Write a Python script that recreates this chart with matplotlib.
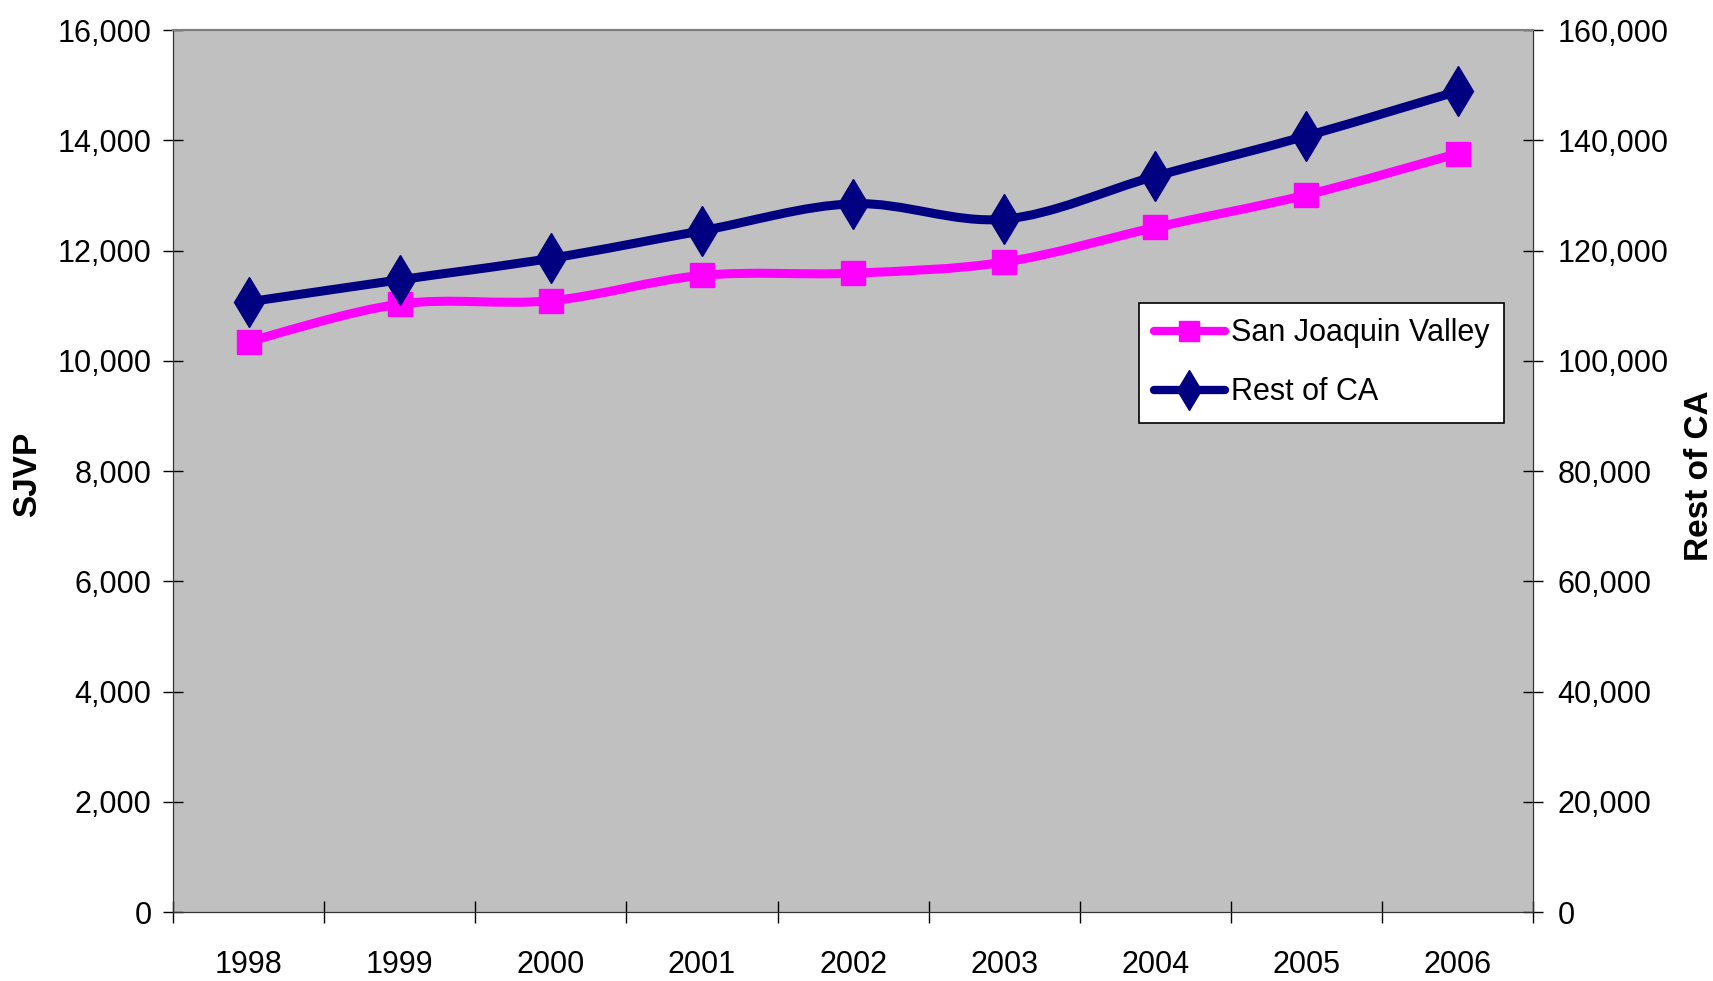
import matplotlib.pyplot as plt
from matplotlib.path import Path
from matplotlib.patches import PathPatch
from matplotlib.lines import Line2D

plt.rcParams['font.family'] = ['Liberation Sans', 'DejaVu Sans']

# data
years = ["1998", "1999", "2000", "2001", "2002", "2003", "2004", "2005", "2006"]
sjv = [10350, 11030, 11090, 11550, 11590, 11790, 12420, 13010, 13760]
rest_ca = [110700, 114700, 118600, 123600, 128500, 125700, 133500, 140800, 148900]
left_ticks = [0, 2000, 4000, 6000, 8000, 10000, 12000, 14000, 16000]
right_ticks = [0, 20000, 40000, 60000, 80000, 100000, 120000, 140000, 160000]

pink = "#FF00FF"
navy = "#000080"


def smooth_path(xs, ys):
    # catmull-rom style bezier through the points (like Excel's smoothed line)
    pts = list(zip(xs, ys))
    verts = [pts[0]]
    codes = [Path.MOVETO]
    n = len(pts)
    for i in range(n - 1):
        p0 = pts[i - 1] if i > 0 else pts[i]
        p1 = pts[i]
        p2 = pts[i + 1]
        p3 = pts[i + 2] if i + 2 < n else pts[i + 1]
        c1 = (p1[0] + (p2[0] - p0[0]) / 6, p1[1] + (p2[1] - p0[1]) / 6)
        c2 = (p2[0] - (p3[0] - p1[0]) / 6, p2[1] - (p3[1] - p1[1]) / 6)
        verts += [c1, c2, p2]
        codes += [Path.CURVE4] * 3
    return Path(verts, codes)


fig = plt.figure(figsize=(17.13, 9.81), dpi=100)
ax = fig.add_axes([0.101, 0.0703, 0.794, 0.899])
ax.set_facecolor("#C0C0C0")
ax2 = ax.twinx()

x = list(range(len(years)))

ax.add_patch(PathPatch(smooth_path(x, sjv), facecolor="none", edgecolor=pink,
                       lw=6.5, capstyle="round", joinstyle="round", zorder=3))
ax.plot(x, sjv, linestyle="none", marker="s", markersize=17, color=pink, zorder=4)

ax2.add_patch(PathPatch(smooth_path(x, rest_ca), facecolor="none", edgecolor=navy,
                        lw=6.5, capstyle="round", joinstyle="round", zorder=3))
ax2.plot(x, rest_ca, linestyle="none", marker="d", markersize=25, color=navy, zorder=4)

ax.set_xlim(-0.5, len(years) - 0.5)
ax.set_ylim(0, 16000)
ax2.set_ylim(0, 160000)

ax.set_yticks(left_ticks)
ax.set_yticklabels([f"{v:,}" for v in left_ticks])
ax2.set_yticks(right_ticks)
ax2.set_yticklabels([f"{v:,}" for v in right_ticks])

# ticks between categories, labels at the centres
ax.set_xticks([i - 0.5 for i in range(len(years) + 1)])
ax.set_xticklabels([])
ax.set_xticks(x, minor=True)
ax.set_xticklabels(years, minor=True)
ax.tick_params(axis="x", which="major", direction="inout", length=16, width=1)
ax.tick_params(axis="x", which="minor", length=0, pad=27, labelsize=22)
ax.tick_params(axis="y", direction="inout", length=15, width=1, pad=8, labelsize=22)
ax2.tick_params(axis="y", direction="inout", length=15, width=1, pad=10, labelsize=22)

for a in (ax, ax2):
    a.spines["top"].set_color("#808080")
    a.spines["left"].set_color("#333333")
    a.spines["right"].set_color("#333333")
    a.spines["bottom"].set_color("#333333")
    a.spines["top"].set_linewidth(1.5)

# axis titles
fig.text(28 / 1713, 1 - 474 / 981, "SJVP", rotation=90, ha="center", va="center",
         fontsize=24, fontweight="bold")
fig.text(1700 / 1713, 1 - 476 / 981, "Rest of CA", rotation=90, ha="center", va="center",
         fontsize=24, fontweight="bold")

handles = [
    Line2D([], [], color=pink, lw=6, marker="s", markersize=14, solid_capstyle="round"),
    Line2D([], [], color=navy, lw=6, marker="d", markersize=20, solid_capstyle="round"),
]
leg = ax2.legend(handles, ["San Joaquin Valley", "Rest of CA"],
                 loc="upper left", bbox_to_anchor=(1139 / 1713, 1 - 303 / 981),
                 bbox_transform=fig.transFigure, fontsize=22, frameon=True,
                 fancybox=False, edgecolor="black", framealpha=1,
                 handlelength=2.3, handletextpad=0.2, borderpad=0.5,
                 borderaxespad=0, labelspacing=0.95)
leg.get_frame().set_linewidth(1.2)

fig.savefig("out.png", dpi=100)
